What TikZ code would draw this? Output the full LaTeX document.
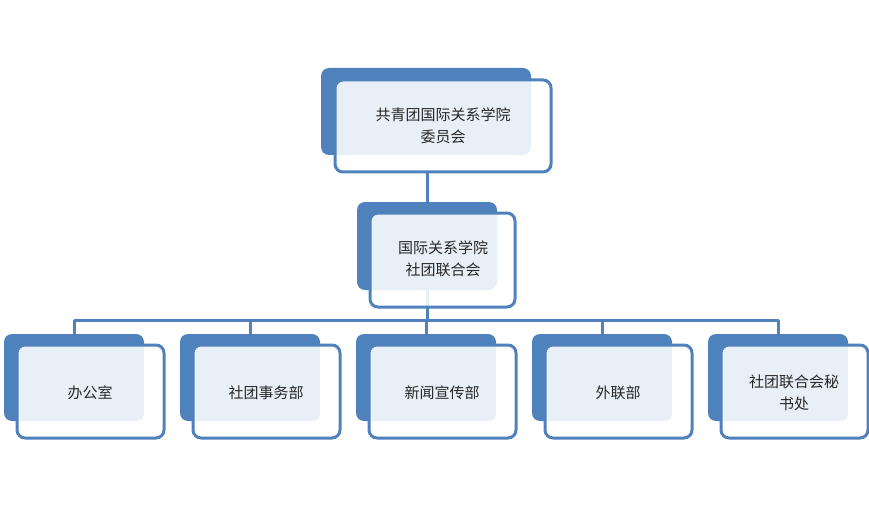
\documentclass[tikz,border=0pt]{standalone}
\usepackage{fontspec}
\newfontfamily\cjk{Noto Sans CJK SC}
\definecolor{bl}{HTML}{4F81BD}
\begin{document}
\begin{tikzpicture}[x=1pt,y=-1pt,
  back/.style={fill=bl,rounded corners=8pt},
  front/.style={draw=bl,line width=3pt,fill=white,fill opacity=0.88,text opacity=1,rounded corners=8pt},
  lbl/.style={font=\cjk\fontsize{15}{22}\selectfont,align=center,text=black!85},
  conn/.style={draw=bl,line width=3pt}]
\useasboundingbox (0,0) rectangle (869,505);
% connectors
\coordinate (t1) at (427,172);
\coordinate (t2) at (427,202);
\coordinate (m1) at (427,290);
\coordinate (hl) at (74,320);
\coordinate (hr) at (779,320);
\coordinate (hm) at (427,320);
\draw[conn] (t1) -- (t2);
\draw[conn] (m1) -- (hm);
\draw[conn] (hl) -- (hr);
\foreach \i in {0,...,4}{
  \coordinate (d\i) at (74+176*\i,320);
  \coordinate (e\i) at (74+176*\i,334);
  \draw[conn] (d\i) -- (e\i);
}
% top
\fill[back] (321,68) rectangle (531,155);
\path[front] (335,80) rectangle (551,172);
\node[lbl] (top) at (443,126) {共青团国际关系学院\\委员会};
% middle
\fill[back] (357,202) rectangle (497,290);
\path[front] (370,213) rectangle (515,307);
\node[lbl] (mid) at (443,259) {国际关系学院\\社团联合会};
% bottom
\foreach \i/\t in {0/办公室,1/社团事务部,2/新闻宣传部,3/外联部,4/社团联合会秘\\书处}{
  \fill[back] (4+176*\i,334) rectangle (144+176*\i,421);
  \path[front] (17+176*\i,345) rectangle (164+176*\i,438);
  \node[lbl] (b\i) at (90+176*\i,393) {\t};
}
\end{tikzpicture}
\end{document}
